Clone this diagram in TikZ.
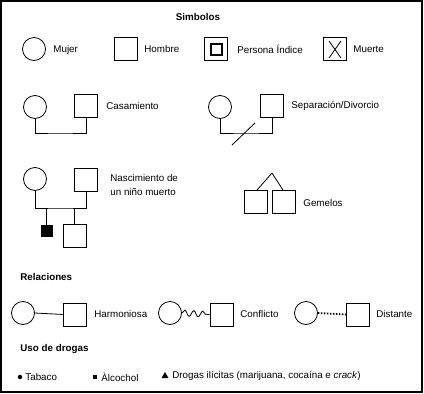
\documentclass[tikz,border=0pt]{standalone}
\usepackage{fontspec}
\setmainfont{Liberation Sans}
\usetikzlibrary{decorations.pathmorphing,shapes.geometric}
\begin{document}
\begin{tikzpicture}[x=1pt,y=-1pt,
  every path/.style={line width=0.8pt},
  fem/.style={circle, draw, line width=0.8pt, minimum size=23pt, inner sep=0pt},
  masc/.style={rectangle, draw, line width=0.8pt, minimum size=23pt, inner sep=0pt},
  lbl/.style={anchor=west, font=\fontsize{9.8}{14}\selectfont, inner sep=0pt},
  ttl/.style={anchor=west, font=\bfseries\fontsize{9.8}{11}\selectfont, inner sep=0pt},
  link/.style={draw, line width=0.8pt}]
\useasboundingbox (0,0) rectangle (424,394);
\draw[line width=1.3pt] (1,1) rectangle (422,392);

% title
\node[ttl, anchor=center] (tsim) at (198,17) {Simbolos};

% row 1
\node[fem] (mujer) at (34,49) {};
\node[lbl] (lmujer) at (53,50) {Mujer};
\node[masc] (hombre) at (126,49) {};
\node[lbl] (lhombre) at (144,49) {Hombre};
\node[masc] (pi) at (216,49) {};
\node[rectangle, draw, line width=2pt, minimum size=11pt, inner sep=0pt] (pii) at (216,49) {};
\node[lbl] (lpi) at (237,49) {Persona Índice};
\node[masc] (muerte) at (335,49) {};
\draw (329,41) -- (341,58);
\draw (341,41) -- (329,58);
\node[lbl] (lmuerte) at (353,49) {Muerte};

% row 2: casamiento
\node[fem] (c1) at (35,107) {};
\node[masc] (s1) at (86,106) {};
\coordinate (m1) at (60,133);
\draw[link] (c1.south) |- (m1) -| (s1.south);
\node[lbl] (lcas) at (106,106) {Casamiento};

% separacion
\node[fem] (c2) at (220,107) {};
\node[masc] (s2) at (272,106) {};
\coordinate (m2) at (246,133);
\draw[link] (c2.south) |- (m2) -| (s2.south);
\coordinate (sl1) at (232,145);
\coordinate (sl2) at (255,123);
\draw[link] (sl1) -- (sl2);
\node[lbl] (lsep) at (291,106) {Separación/Divorcio};

% row 3: nacimiento
\node[fem] (c3) at (35,179) {};
\node[masc] (s3) at (86,180) {};
\coordinate (m3) at (60,208);
\draw[link] (c3.south) |- (m3) -| (s3.south);
\node[rectangle, fill=black, draw, minimum size=11pt, inner sep=0pt] (dead) at (46.5,230.5) {};
\node[masc] (s4) at (74.5,235.5) {};
\coordinate (b1) at (46.5,208);
\coordinate (b2) at (74.5,208);
\draw[link] (b1) -- (dead.north);
\draw[link] (b2) -- (s4.north);
\node[lbl, align=left] (lnac) at (110,185) {Nascimiento de\\un niño muerto};

% gemelos
\node[masc] (g1) at (256,202) {};
\node[masc] (g2) at (284,202) {};
\coordinate (apex) at (272,173);
\draw[link] (g1.north) ++(1,0) coordinate (g1t) (apex) -- (g1t);
\draw[link] (g2.north) ++(-1,0) coordinate (g2t) (apex) -- (g2t);
\node[lbl] (lgem) at (303,203) {Gemelos};

% relaciones
\node[ttl] (trel) at (20,277) {Relaciones};
\node[fem] (r1c) at (23,313) {};
\node[masc] (r1s) at (75,314.5) {};
\draw[link] (r1c.east) -- (r1s.west);
\node[lbl] (lharm) at (94,314) {Harmoniosa};

\node[fem] (r2c) at (170,313) {};
\node[masc] (r2s) at (221.5,314.5) {};
\draw[link, decorate, decoration={snake, segment length=9pt, amplitude=3pt}] (r2c.east) -- (r2s.west);
\node[lbl] (lconf) at (240,314) {Conflicto};

\node[fem] (r3c) at (306,313) {};
\node[masc] (r3s) at (358,314.5) {};
\draw[line width=1.8pt, dash pattern=on 1.5pt off 1.5pt] (r3c.east) -- (r3s.west);
\node[lbl] (ldist) at (376,314) {Distante};

% drogas
\node[ttl] (tdro) at (20,349) {Uso de drogas};
\node[circle, fill=black, minimum size=4.5pt, inner sep=0pt] (dot) at (20,377) {};
\node[lbl] (ltab) at (25,377) {Tabaco};
\node[rectangle, fill=black, minimum size=4.5pt, inner sep=0pt] (sq) at (95,377) {};
\node[lbl] (lalc) at (101,377) {Àlcochol};
\node[regular polygon, regular polygon sides=3, fill=black, minimum size=8pt, inner sep=0pt] (tri) at (165,376) {};
\node[lbl] (ldrog) at (172,376) {Drogas ilícitas (marijuana, cocaína e \textit{crack})};
\end{tikzpicture}
\end{document}
